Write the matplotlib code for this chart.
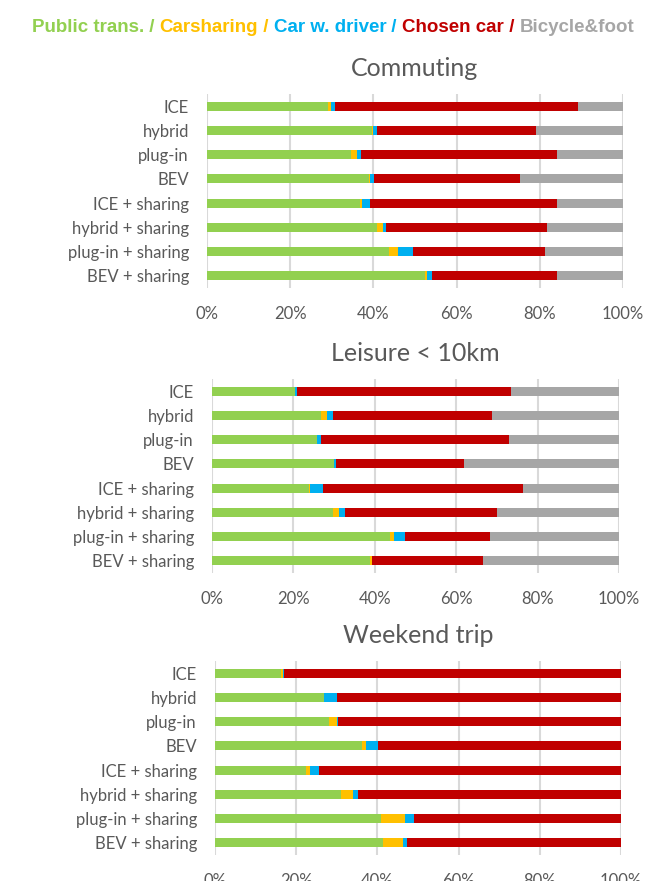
import matplotlib
matplotlib.use("Agg")
import matplotlib.pyplot as plt
import numpy as np

categories = ["ICE", "hybrid", "plug-in", "BEV", "ICE + sharing",
              "hybrid + sharing", "plug-in + sharing", "BEV + sharing"]
modes = ["Public trans.", "Carsharing", "Car w. driver", "Chosen car", "Bicycle&foot"]
colors = ["#92D050", "#FFC000", "#00B0F0", "#C00000", "#A6A6A6"]

# values in percent (shares per mode)
commuting_public = [29.2, 39.7, 34.6, 38.9, 36.8, 40.9, 43.7, 52.3]
commuting_carsh = [0.5, 0.3, 1.4, 0.4, 0.4, 1.5, 2.1, 0.7]
commuting_driver = [1.1, 0.9, 0.9, 0.9, 2.1, 0.6, 3.6, 1.1]
commuting_chosen = [58.5, 38.3, 47.2, 35.0, 44.8, 38.8, 31.8, 30.0]
commuting_bike = [10.7, 20.8, 15.9, 24.8, 15.9, 18.2, 18.8, 15.9]

leisure_public = [20.4, 26.9, 25.9, 29.9, 23.8, 29.7, 43.7, 38.8]
leisure_carsh = [0.0, 1.4, 0.0, 0.1, 0.4, 1.5, 1.1, 0.4]
leisure_driver = [0.5, 1.4, 1.0, 0.4, 3.1, 1.5, 2.6, 0.2]
leisure_chosen = [52.5, 39.2, 46.1, 31.5, 49.1, 37.3, 20.8, 27.1]
leisure_bike = [26.6, 31.1, 27.0, 38.1, 23.6, 30.0, 31.8, 33.5]

weekend_public = [16.2, 26.9, 28.0, 36.1, 22.3, 31.0, 40.8, 41.3]
weekend_carsh = [0.5, 0.0, 2.0, 1.1, 1.0, 2.9, 6.0, 5.0]
weekend_driver = [0.3, 3.2, 0.4, 3.0, 2.2, 1.4, 2.1, 1.1]
weekend_chosen = [83.0, 69.9, 69.6, 59.8, 74.5, 64.7, 51.1, 52.6]
weekend_bike = [0.0, 0.0, 0.0, 0.0, 0.0, 0.0, 0.0, 0.0]

panels = [
    ("Commuting", [commuting_public, commuting_carsh, commuting_driver, commuting_chosen, commuting_bike]),
    ("Leisure < 10km", [leisure_public, leisure_carsh, leisure_driver, leisure_chosen, leisure_bike]),
    ("Weekend trip", [weekend_public, weekend_carsh, weekend_driver, weekend_chosen, weekend_bike]),
]

xticks = [0, 20, 40, 60, 80, 100]
xticklabels = ["0%", "20%", "40%", "60%", "80%", "100%"]

W, H = 668, 881
fig = plt.figure(figsize=(W / 100, H / 100), dpi=100)

# axes rectangles in pixels: left, top, right, bottom
rects = [(207, 94, 623, 288), (212, 379, 619, 573), (215, 661, 621, 855)]

FONT = "Lato"
TXT = "#595959"

for (title, series), (l, t, r, b) in zip(panels, rects):
    ax = fig.add_axes([l / W, 1 - b / H, (r - l) / W, (b - t) / H])
    y = np.arange(len(categories))
    left = np.zeros(len(categories))
    for vals, c in zip(series, colors):
        v = np.array(vals)
        ax.barh(y, v, left=left, height=0.38, color=c, edgecolor="none", zorder=3)
        left += v
    ax.set_xlim(0, 100)
    ax.set_ylim(len(categories) - 0.5, -0.5)
    ax.set_yticks(y)
    ax.set_yticklabels(categories, fontsize=12, color=TXT, family=FONT)
    ax.set_xticks(xticks)
    ax.set_xticklabels(xticklabels, fontsize=12, color=TXT, family=FONT)
    ax.tick_params(axis="both", length=0)
    ax.tick_params(axis="y", pad=13)
    ax.tick_params(axis="x", pad=13)
    for s in ax.spines.values():
        s.set_visible(False)
    ax.grid(axis="x", color="#D9D9D9", linewidth=1.5, zorder=0)
    ax.set_axisbelow(True)
    ax.set_title(title, fontsize=18, color=TXT, family=FONT, pad=13)

# colored legend line at top
pieces = []
for i, (m, c) in enumerate(zip(modes, colors)):
    pieces.append((m, c))
    if i < len(modes) - 1:
        pieces.append((" / ", c))

legfam = "Liberation Sans"
fig.canvas.draw()
renderer = fig.canvas.get_renderer()
fs = 12
texts = []
for s, c in pieces:
    tx = fig.text(0, 1 - 27 / H, s, color=c, fontsize=fs, fontweight="bold",
                  family=legfam, va="center", ha="left")
    texts.append(tx)
widths = [tx.get_window_extent(renderer).width for tx in texts]
total = sum(widths)
scale = 602 / total
for tx in texts:
    tx.set_fontsize(fs * scale)
fig.canvas.draw()
widths = [tx.get_window_extent(renderer).width for tx in texts]
total = sum(widths)
x = 333 - total / 2
for tx, w in zip(texts, widths):
    tx.set_x(x / W)
    x += w

fig.savefig("out.png", dpi=100)
